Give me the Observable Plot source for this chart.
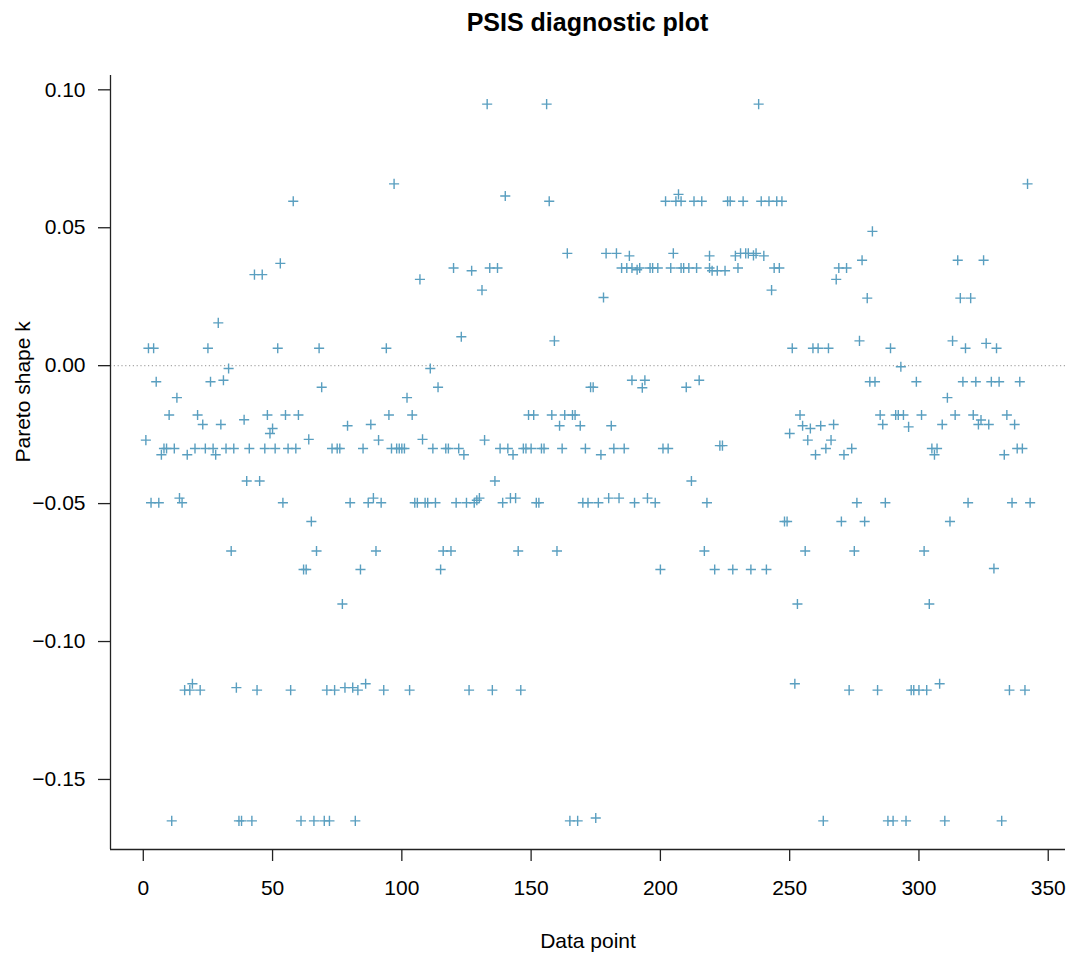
<!DOCTYPE html>
<html>
<head>
<meta charset="utf-8">
<script src="https://cdn.jsdelivr.net/npm/d3@7"></script>
<script src="https://cdn.jsdelivr.net/npm/@observablehq/plot@0.6"></script>
<style>
  html, body { margin: 0; padding: 0; background: #ffffff; }
  body { font-family: "Liberation Sans", Arial, sans-serif; width: 1070px; }
  #title {
    height: 50px; line-height: 44px; box-sizing: border-box;
    padding-left: 110px; width: 1070px; padding-right: 5px;
    text-align: center; font-weight: bold; font-size: 25px; color: #000;
  }
  #chart svg { display: block; }
</style>
</head>
<body>
<div id="title">PSIS diagnostic plot</div>
<div id="chart"></div>
<script>
const dataIndex = [
  1,2,3,4,5,6,7,8,9,10,11,12,13,14,15,16,17,18,19,20,
  21,22,23,24,25,26,27,28,29,30,31,32,33,34,35,36,37,38,39,40,
  41,42,43,44,45,46,47,48,49,50,51,52,53,54,55,56,57,58,59,60,
  61,62,63,64,65,66,67,68,69,70,71,72,73,74,75,76,77,78,79,80,
  81,82,83,84,85,86,87,88,89,90,91,92,93,94,95,96,97,98,99,100,
  101,102,103,104,105,106,107,108,109,110,111,112,113,114,115,116,117,118,119,120,
  121,122,123,124,125,126,127,128,129,130,131,132,133,134,135,136,137,138,139,140,
  141,142,143,144,145,146,147,148,149,150,151,152,153,154,155,156,157,158,159,160,
  161,162,163,164,165,166,167,168,169,170,171,172,173,174,175,176,177,
  178,179,180,181,182,183,184,185,186,187,188,189,189,190,
  191,192,193,194,195,196,197,198,199,200,
  201,202,203,204,205,206,207,208,208,209,210,
  211,212,213,214,215,216,217,218,219,219,220,
  221,222,223,224,225,226,227,228,229,230,
  231,232,233,234,235,236,237,238,239,240,
  241,242,243,244,245,246,247,248,249,250,
  251,252,253,254,255,256,257,258,259,260,
  261,262,263,264,265,266,267,268,269,270,
  271,272,273,274,275,276,277,278,279,280,
  281,282,283,284,285,286,287,288,289,290,
  291,292,293,294,295,296,297,298,299,300,
  301,302,303,304,305,306,307,308,309,310,
  311,312,313,314,315,316,317,318,319,320,
  321,322,323,324,325,326,327,328,329,330,
  331,332,333,334,335,336,337,338,339,340,
  341,342,343
];
const paretoK = [
  -0.027,0.0063,-0.0497,0.0063,-0.0058,-0.0497,-0.0323,-0.030,-0.030,-0.0179,
  -0.165,-0.030,-0.0116,-0.048,-0.0497,-0.1176,-0.0323,-0.1176,-0.1153,-0.030,
  -0.0179,-0.1176,-0.0213,-0.030,0.0063,-0.0058,-0.030,-0.0323,0.0155,-0.0213,
  -0.0053,-0.030,-0.001,-0.0672,-0.030,-0.1167,-0.165,-0.165,-0.0196,-0.0418,
  -0.030,-0.165,0.033,-0.1176,-0.0418,0.033,-0.030,-0.0179,-0.0246,-0.0228,
  -0.030,0.0063,0.0371,-0.0497,-0.0179,-0.030,-0.1176,0.0596,-0.030,-0.0179,
  -0.165,-0.0739,-0.0739,-0.0267,-0.0565,-0.165,-0.0672,0.0063,-0.0078,-0.165,
  -0.1176,-0.165,-0.030,-0.1176,-0.030,-0.030,-0.0864,-0.1167,-0.0218,-0.0497,
  -0.1167,-0.165,-0.1176,-0.0739,-0.030,-0.1153,-0.0497,-0.0213,-0.048,-0.0672,
  -0.027,-0.0497,-0.1176,0.0063,-0.0179,-0.030,0.0659,-0.030,-0.030,-0.030,
  -0.030,-0.0116,-0.1176,-0.0179,-0.0497,-0.0497,0.0313,-0.0267,-0.0497,-0.0497,
  -0.001,-0.030,-0.0497,-0.0078,-0.0739,-0.0672,-0.030,-0.030,-0.0672,0.0354,
  -0.0497,-0.030,0.0105,-0.0323,-0.0497,-0.1176,0.0344,-0.0497,-0.0488,-0.048,
  0.0274,-0.027,0.0948,0.0354,-0.1176,-0.0418,0.0354,-0.030,-0.0497,0.0615,
  -0.030,-0.048,-0.0323,-0.048,-0.0672,-0.1176,-0.030,-0.030,-0.0179,-0.030,
  -0.0179,-0.0497,-0.0497,-0.030,-0.030,0.0948,0.0596,-0.0179,0.009,-0.0672,
  -0.0218,-0.030,-0.0179,0.0407,-0.165,-0.0179,-0.0179,-0.165,-0.0218,-0.0497,
  -0.030,-0.0497,-0.0078,-0.0078,-0.164,-0.0497,-0.0323,
  0.0247,0.0407,-0.048,-0.0218,-0.030,0.0407,-0.048,0.0354,-0.030,0.0354,0.0398,0.0354,-0.0053,-0.0497,
  0.0348,0.0354,-0.008,-0.0053,-0.048,0.0354,0.0354,-0.0497,0.0354,-0.0739,
  -0.030,0.0596,-0.030,0.0354,0.0407,0.0596,0.0621,0.0596,0.0354,0.0354,-0.0078,
  0.0354,-0.0418,0.0596,0.0354,-0.0053,0.0596,-0.0672,-0.0497,0.0398,0.0354,0.0344,
  -0.0739,0.0344,-0.029,-0.029,0.0344,0.0596,0.0596,-0.0739,0.0398,0.0354,
  0.0407,0.0596,0.0407,0.0407,-0.0739,0.040,0.0407,0.0948,0.0596,0.0398,
  -0.0739,0.0596,0.0274,0.0354,0.0596,0.0354,0.0596,-0.0565,-0.0565,-0.0246,
  0.0063,-0.1153,-0.0864,-0.0179,-0.0218,-0.0672,-0.027,-0.0228,0.0063,-0.0323,
  0.0063,-0.0218,-0.165,-0.030,0.0063,-0.027,-0.0213,0.0313,0.0354,-0.0565,
  -0.0323,0.0354,-0.1176,-0.030,-0.0672,-0.0497,0.009,0.0382,-0.0565,0.0245,
  -0.0058,0.0487,-0.0058,-0.1176,-0.0179,-0.0213,-0.0497,-0.165,0.0063,-0.165,
  -0.0179,-0.0179,-0.0004,-0.0179,-0.165,-0.0222,-0.1176,-0.1176,-0.0058,-0.1176,
  -0.0179,-0.0672,-0.1176,-0.0864,-0.030,-0.0323,-0.030,-0.1153,-0.0213,-0.165,
  -0.0116,-0.0565,0.009,-0.0179,0.0382,0.0245,-0.0058,0.0063,-0.0497,0.0245,
  -0.0179,-0.0058,-0.0213,-0.0197,0.0382,0.0081,-0.0213,-0.0058,-0.0735,0.0063,
  -0.0058,-0.165,-0.0323,-0.0179,-0.1176,-0.0497,-0.0213,-0.030,-0.0058,-0.030,
  -0.1176,0.0659,-0.0497
];
const xTicks = [0, 50, 100, 150, 200, 250, 300, 350];
const yTicks = [-0.15, -0.10, -0.05, 0.00, 0.05, 0.10];
const xLabel = "Data point";
const yLabel = "Pareto shape k";
const referenceK = [0];

const points = dataIndex.map((d, i) => ({index: d, k: paretoK[i]}));

// R-style 4% padding around the data range
const xExt = d3.extent(dataIndex);
const yExt = d3.extent(paretoK);
const xPad = (xExt[1] - xExt[0]) * 0.04;
const yPad = (yExt[1] - yExt[0]) * 0.04;
const xDomain = [xExt[0] - xPad, xExt[1] + xPad];
const yDomain = [yExt[0] - yPad, yExt[1] + yPad];

const font = "Liberation Sans, Arial, sans-serif";
const ink = "#222222";

const chart = Plot.plot({
  width: 1070,
  height: 908,
  marginTop: 25,
  marginBottom: 109,
  marginLeft: 110,
  marginRight: 5,
  style: {fontFamily: font, fontSize: "21px", color: "#000", background: "#fff"},
  x: {domain: xDomain},
  y: {domain: yDomain},
  marks: [
    Plot.ruleY(referenceK, {stroke: "#a8a8a8", strokeWidth: 1.2, strokeDasharray: "1.2,2.6"}),
    Plot.dot(points, {x: "index", y: "k", symbol: "plus", r: 3.35, stroke: "#5a9fc0", strokeWidth: 1.4}),
    Plot.ruleX([xDomain[0]], {stroke: ink, strokeWidth: 1.3}),
    Plot.ruleY([yDomain[0]], {stroke: ink, strokeWidth: 1.3}),
    Plot.axisX({ticks: xTicks, tickSize: 12, tickPadding: 19, fontSize: 21, label: null, stroke: ink, strokeWidth: 1.3, tickFormat: d3.format("d")}),
    Plot.axisY({ticks: yTicks, tickSize: 12, tickPadding: 13, fontSize: 21, label: null, stroke: ink, strokeWidth: 1.3, tickFormat: d3.format(".2f")}),
    Plot.text([xLabel], {frameAnchor: "bottom", dy: 92, fontSize: 21, lineAnchor: "middle", fill: "#000"}),
    Plot.text([yLabel], {frameAnchor: "left", dx: -87, rotate: -90, fontSize: 21, lineAnchor: "middle", fill: "#000"})
  ]
});
document.getElementById("chart").appendChild(chart);
</script>
</body>
</html>
